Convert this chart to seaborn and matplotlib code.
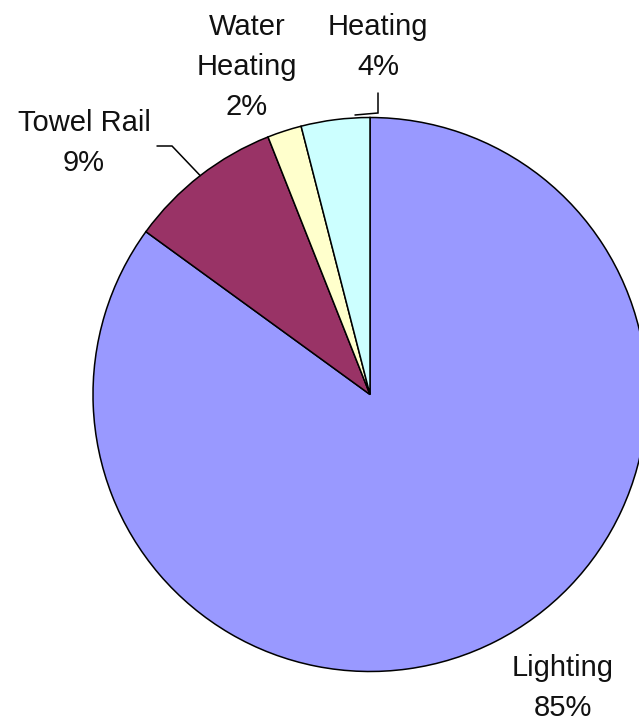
import matplotlib
matplotlib.use("Agg")
import matplotlib.pyplot as plt
import seaborn as sns
import numpy as np

# Energy use by category (percent of total)
categories = ["Lighting", "Towel Rail", "Water\nHeating", "Heating"]
shares = [85, 9, 2, 4]
slice_colors = ["#9999FF", "#993366", "#FFFFCC", "#CCFFFF"]

sns.set_theme(style="white")
plt.rcParams["font.family"] = ["Liberation Sans", "DejaVu Sans"]

W, H = 639, 723
fig = plt.figure(figsize=(W / 100, H / 100), dpi=100)
ax = fig.add_axes([0, 0, 1, 1])

# Work in pixel-like data units so the pie can run past the right edge
cx, cy, r = 370, H - 394.5, 277
wedges, _ = ax.pie(
    shares,
    colors=sns.color_palette(slice_colors),
    startangle=90,
    counterclock=False,
    radius=r,
    center=(cx, cy),
    wedgeprops=dict(edgecolor="black", linewidth=1.1),
)
ax.set_xlim(0, W)
ax.set_ylim(0, H)
ax.set_aspect("equal")
ax.axis("off")

# Label block centres (x, y from top)
label_pos = {
    "Lighting": (563, 688),
    "Towel Rail": (84, 143),
    "Water\nHeating": (247, 67),
    "Heating": (378, 47),
}
for name, val in zip(categories, shares):
    x, y = label_pos[name]
    ax.text(x, H - y, f"{name}\n{val}%", ha="center", va="center",
            fontsize=21, color="#111111", linespacing=1.55)

def mid_point(w):
    a = np.deg2rad((w.theta1 + w.theta2) / 2)
    return cx + r * np.cos(a), cy + r * np.sin(a)

# Leader line for Towel Rail
tx, ty = mid_point(wedges[1])
ax.plot([157, 172, tx], [H - 146, H - 146, ty], color="black", lw=1.1,
        solid_joinstyle="miter")

# Leader line for Heating
ax.plot([378, 378, 355], [H - 93, H - 113, H - 115], color="black", lw=1.1,
        solid_joinstyle="miter")

fig.savefig("out.png", dpi=100)
